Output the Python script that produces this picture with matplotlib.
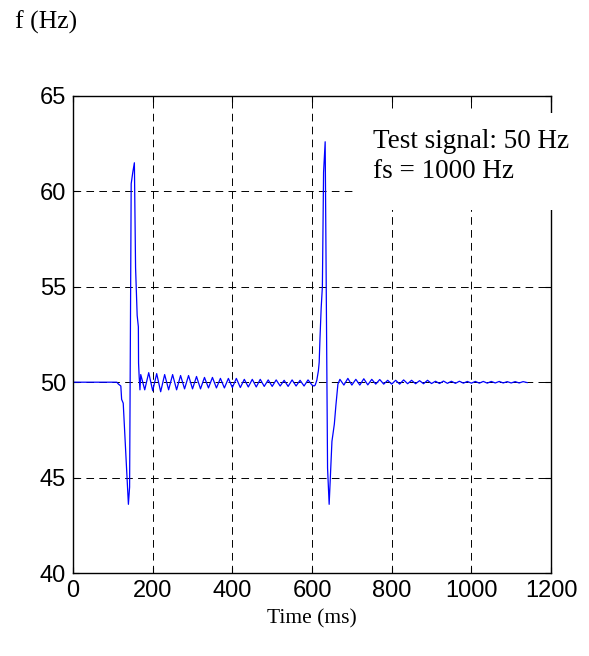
"""Frequency estimate of a 50 Hz test signal through two transients."""

import numpy as np
import matplotlib
matplotlib.use("Agg")
import matplotlib.pyplot as plt
from matplotlib.patches import Rectangle

# first transient (ms, Hz)
t_step1 = [0, 110, 114, 120, 122, 126, 128, 132, 135, 139, 142, 146, 150, 154, 157, 161, 164, 164.5, 166, 168]
f_step1 = [50, 50, 49.9, 49.8, 49.1, 48.9, 48.1, 46.4, 45.2, 43.6, 44.5, 60.4, 61.0, 61.5, 56.0, 53.5, 52.9, 51.0, 50.3, 49.6]

# ripple after first transient, one reading every 10 ms from 170 ms
ripple1_start = 170
f_ripple1 = [
    50.4, 49.6, 50.5, 49.55, 50.45, 49.5, 50.4, 49.6, 50.4, 49.6,
    50.35, 49.65, 50.35, 49.65, 50.3, 49.65, 50.25, 49.7, 50.25, 49.7,
    50.2, 49.7, 50.2, 49.72, 50.2, 49.72, 50.15, 49.75, 50.15, 49.75,
    50.15, 49.78, 50.12, 49.78, 50.12, 49.8, 50.1, 49.78, 50.12, 49.8,
    50.1, 49.8, 50.12, 49.85,
]

# second transient (ms, Hz)
t_step2 = [605, 608, 612, 616, 618, 620, 623, 626, 629, 633, 639, 643, 650, 656, 660, 665]
f_step2 = [49.8, 49.85, 50.1, 50.6, 51.05, 52.3, 53.9, 55.0, 61.0, 62.6, 45.5, 43.6, 46.9, 47.8, 48.8, 49.9]

# ripple after second transient, one reading every 10 ms from 670 ms
ripple2_start = 670
f_ripple2 = [
    50.15, 49.85, 50.2, 49.85, 50.15, 49.85, 50.18, 49.86, 50.15, 49.9,
    50.14, 49.9, 50.1, 49.9, 50.1, 49.9, 50.12, 49.92, 50.1, 49.92,
    50.08, 49.92, 50.1, 49.93, 50.05, 49.93, 50.06, 49.94, 50.05, 49.94,
    50.05, 49.95, 50.04, 49.95, 50.04, 49.95, 50.04, 49.95, 50.04, 49.96,
    50.04, 49.96, 50.03, 49.96, 50.03, 49.96, 50.03, 49.98,
]

x_ticks = [0, 200, 400, 600, 800, 1000, 1200]
y_ticks = [40, 45, 50, 55, 60, 65]

plt.rcParams["lines.scale_dashes"] = False

t_ripple1 = ripple1_start + 10 * np.arange(len(f_ripple1))
t_ripple2 = ripple2_start + 10 * np.arange(len(f_ripple2))
t = np.concatenate([t_step1, t_ripple1, t_step2, t_ripple2])
f = np.concatenate([f_step1, f_ripple1, f_step2, f_ripple2])

fig = plt.figure(figsize=(5.89, 6.56), dpi=100)
ax = fig.add_axes([0.124, 0.1265, 0.8115, 0.7272])
ax.plot(t, f, color="#0000ff", linewidth=0.9)

ax.set_xlim(0, 1200)
ax.set_ylim(40, 65)
ax.set_xticks(x_ticks)
ax.set_yticks(y_ticks)
ax.grid(True, color="black", linestyle=(0, (5.5, 3.8)), linewidth=0.7)
ax.tick_params(direction="in", length=4, width=0.8, top=True, right=True,
               labelsize=17, pad=5)
for label in ax.get_xticklabels() + ax.get_yticklabels():
    label.set_family("Liberation Sans")
for spine in ax.spines.values():
    spine.set_linewidth(1.0)

serif = "Liberation Serif"
fig.text(0.026, 0.957, "f (Hz)", family=serif, fontsize=18.5, va="baseline")
fig.text(0.53, 0.05, "Time (ms)", family=serif, fontsize=15.5, ha="center", va="baseline")

# white box over the grid behind the annotation
fig.add_artist(Rectangle((0.6044, 0.680), 0.34, 0.148, transform=fig.transFigure,
                         facecolor="white", edgecolor="none", zorder=3))
fig.text(0.633, 0.7744, "Test signal: 50 Hz", family=serif, fontsize=19.5, va="baseline", zorder=4)
fig.text(0.633, 0.7287, "fs = 1000 Hz", family=serif, fontsize=19.5, va="baseline", zorder=4)

fig.savefig("out.png", dpi=100, facecolor="white")
